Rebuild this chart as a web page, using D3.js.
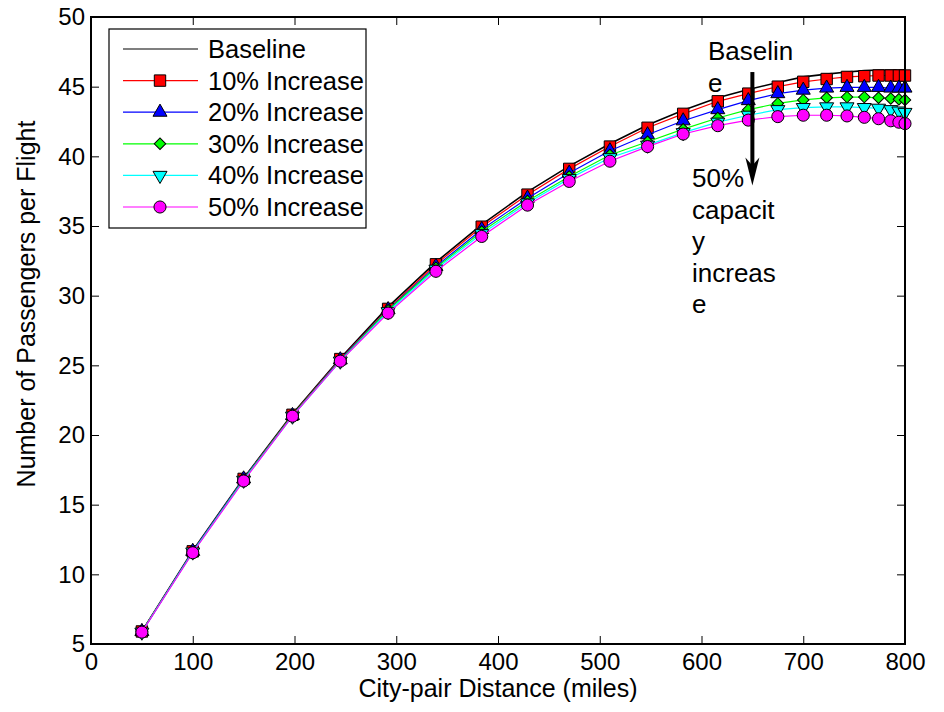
<!DOCTYPE html>
<html>
<head>
<meta charset="utf-8">
<script src="https://cdn.jsdelivr.net/npm/d3@7"></script>
<style>
	body { margin: 0; background: #fff; }
	text { font-family: "Liberation Sans", Arial, sans-serif; fill: #000; }
</style>
</head>
<body>
<div id="widget"></div>
<script>
// City-pair distance (miles) where each value was computed
var distances = [50, 100, 150, 198, 245, 292, 339, 384, 429, 470, 510, 547, 582, 616, 646, 675, 700, 723, 743, 760, 774, 786, 794, 800];

// Passengers per flight, one array per capacity case
var baseline = [5.9, 11.7, 16.9, 21.5, 25.5, 29.2, 32.4, 35.1, 37.45, 39.3, 40.9, 42.25, 43.3, 44.2, 44.8, 45.3, 45.7, 45.9, 46.05, 46.15, 46.2, 46.2, 46.2, 46.2];
var inc10 = [5.9, 11.65, 16.85, 21.45, 25.45, 29.05, 32.25, 34.95, 37.25, 39.1, 40.7, 42.05, 43.05, 43.95, 44.5, 45.0, 45.35, 45.55, 45.7, 45.75, 45.8, 45.8, 45.8, 45.8];
var inc20 = [5.9, 11.65, 16.85, 21.4, 25.4, 29.0, 32.1, 34.75, 37.0, 38.8, 40.4, 41.55, 42.55, 43.35, 44.0, 44.5, 44.75, 44.9, 44.95, 44.95, 44.95, 44.9, 44.9, 44.9];
var inc30 = [5.9, 11.6, 16.8, 21.4, 25.35, 28.95, 32.0, 34.6, 36.8, 38.55, 40.1, 41.05, 41.95, 42.75, 43.35, 43.8, 44.05, 44.2, 44.25, 44.25, 44.2, 44.15, 44.1, 44.05];
var inc40 = [5.85, 11.6, 16.75, 21.35, 25.3, 28.85, 31.9, 34.45, 36.65, 38.4, 39.9, 40.8, 41.7, 42.45, 42.95, 43.35, 43.5, 43.55, 43.55, 43.5, 43.45, 43.35, 43.25, 43.15];
var inc50 = [5.85, 11.55, 16.7, 21.35, 25.3, 28.75, 31.75, 34.25, 36.5, 38.2, 39.65, 40.7, 41.6, 42.2, 42.6, 42.85, 42.95, 42.95, 42.9, 42.8, 42.7, 42.55, 42.45, 42.35];

var seriesNames = ["Baseline", "10% Increase", "20% Increase", "30% Increase", "40% Increase", "50% Increase"];
var seriesColours = ["#000000", "#ff0000", "#0000ff", "#00ff00", "#00ffff", "#ff00ff"];
var seriesMarkers = ["none", "square", "triangle", "diamond", "triangledown", "circle"];

var xTicks = [0, 100, 200, 300, 400, 500, 600, 700, 800];
var yTicks = [5, 10, 15, 20, 25, 30, 35, 40, 45, 50];

var xTitle = "City-pair Distance (miles)";
var yTitle = "Number of Passengers per Flight";

// arrow annotation, in data units
var arrowX = 650;
var arrowFrom = 46.05;
var arrowTo = 37.9;
var topNote = ["Baselin", "e"];
var bottomNote = ["50%", "capacit", "y", "increas", "e"];

var width = 944, height = 712;
var plotLeft = 91, plotRight = 905, plotTop = 17, plotBottom = 644;

var svg = d3.select("#widget")
	.append("svg")
	.attr("width", width)
	.attr("height", height);

var x = d3.scaleLinear().domain([0, 800]).range([plotLeft, plotRight]);
var y = d3.scaleLinear().domain([5, 50]).range([plotBottom, plotTop]);

var allValues = [baseline, inc10, inc20, inc30, inc40, inc50];

// Build one object per series
var dataset = [];
for (var i = 0; i < allValues.length; i++) {
	dataset.push({
		name: seriesNames[i],
		colour: seriesColours[i],
		marker: seriesMarkers[i],
		points: distances.map(function(d, j) {
			return { x: d, y: allValues[i][j] };
		})
	});
}

function markerPath(type) {
	if (type == "square") return d3.symbol().type(d3.symbolSquare).size(130)();
	if (type == "triangle") return d3.symbol().type(d3.symbolTriangle).size(85)();
	if (type == "triangledown") return d3.symbol().type(d3.symbolTriangle).size(85)();
	if (type == "diamond") return d3.symbol().type(d3.symbolSquare).size(66)();
	if (type == "circle") return d3.symbol().type(d3.symbolCircle).size(115)();
	return null;
}

function markerRotate(type) {
	if (type == "triangledown") return " rotate(180)";
	if (type == "diamond") return " rotate(45)";
	return "";
}

// Axes: ticks point inward on all four sides
svg.append("g")
	.attr("transform", "translate(0," + plotBottom + ")")
	.call(d3.axisBottom(x).tickValues(xTicks).tickSize(-8).tickPadding(9));
svg.append("g")
	.attr("transform", "translate(0," + plotTop + ")")
	.call(d3.axisTop(x).tickValues(xTicks).tickSize(-8).tickFormat(""));
svg.append("g")
	.attr("transform", "translate(" + plotLeft + ",0)")
	.call(d3.axisLeft(y).tickValues(yTicks).tickSize(-8).tickPadding(6));
svg.append("g")
	.attr("transform", "translate(" + plotRight + ",0)")
	.call(d3.axisRight(y).tickValues(yTicks).tickSize(-8).tickFormat(""));

svg.selectAll(".domain").remove();
svg.selectAll(".tick line").attr("stroke", "#000").attr("stroke-width", 1);
svg.selectAll(".tick text")
	.attr("font-size", "24px")
	.attr("font-family", "'Liberation Sans', Arial, sans-serif")
	.attr("fill", "#000");

// Plot lines and markers, series by series
var line = d3.line()
	.x(function(d) { return x(d.x); })
	.y(function(d) { return y(d.y); });

dataset.forEach(function(s) {
	var g = svg.append("g");
	g.append("path")
		.datum(s.points)
		.attr("d", line)
		.attr("fill", "none")
		.attr("stroke", s.colour)
		.attr("stroke-width", s.marker == "none" ? 1.6 : 1.2);
	if (s.marker != "none") {
		g.selectAll("path.mk")
			.data(s.points)
			.enter()
			.append("path")
			.attr("class", "mk")
			.attr("d", markerPath(s.marker))
			.attr("transform", function(d) {
				return "translate(" + x(d.x) + "," + y(d.y) + ")" + markerRotate(s.marker);
			})
			.attr("fill", s.colour)
			.attr("stroke", "#000")
			.attr("stroke-width", 1);
	}
});

// Plot box
svg.append("rect")
	.attr("x", plotLeft)
	.attr("y", plotTop)
	.attr("width", plotRight - plotLeft)
	.attr("height", plotBottom - plotTop)
	.attr("fill", "none")
	.attr("stroke", "#000")
	.attr("stroke-width", 2);

// Axis titles
svg.append("text")
	.attr("x", (plotLeft + plotRight) / 2)
	.attr("y", 697)
	.attr("font-size", "25px")
	.style("text-anchor", "middle")
	.text(xTitle);

svg.append("text")
	.attr("transform", "translate(35,304) rotate(-90)")
	.attr("font-size", "25px")
	.style("text-anchor", "middle")
	.text(yTitle);

// Arrow annotation
var ax = x(arrowX);
var tipY = y(arrowTo);
svg.append("line")
	.attr("x1", ax)
	.attr("x2", ax)
	.attr("y1", y(arrowFrom))
	.attr("y2", tipY - 18)
	.attr("stroke", "#000")
	.attr("stroke-width", 4);
svg.append("path")
	.attr("d", "M" + ax + "," + tipY +
		"L" + (ax - 7) + "," + (tipY - 28) +
		"L" + ax + "," + (tipY - 20) +
		"L" + (ax + 7) + "," + (tipY - 28) + "Z")
	.attr("fill", "#000");

svg.selectAll("text.topnote")
	.data(topNote)
	.enter()
	.append("text")
	.attr("class", "topnote")
	.attr("x", 708)
	.attr("y", function(d, i) { return 60 + i * 32; })
	.attr("font-size", "26px")
	.text(function(d) { return d; });

svg.selectAll("text.bottomnote")
	.data(bottomNote)
	.enter()
	.append("text")
	.attr("class", "bottomnote")
	.attr("x", 692)
	.attr("y", function(d, i) { return 187 + i * 31.5; })
	.attr("font-size", "26px")
	.text(function(d) { return d; });

// Legend
var legend = svg.append("g");
legend.append("rect")
	.attr("x", 109)
	.attr("y", 29)
	.attr("width", 257)
	.attr("height", 199)
	.attr("fill", "#fff")
	.attr("stroke", "#000")
	.attr("stroke-width", 1.2);

var rows = legend.selectAll("g.row")
	.data(dataset)
	.enter()
	.append("g")
	.attr("class", "row")
	.attr("transform", function(d, i) {
		return "translate(0," + (49 + i * 31.6) + ")";
	});

rows.append("line")
	.attr("x1", 123)
	.attr("x2", 198)
	.attr("stroke", function(d) { return d.colour; })
	.attr("stroke-width", 1.2);

rows.filter(function(d) { return d.marker != "none"; })
	.append("path")
	.attr("d", function(d) { return markerPath(d.marker); })
	.attr("transform", function(d) { return "translate(160,0)" + markerRotate(d.marker); })
	.attr("fill", function(d) { return d.colour; })
	.attr("stroke", "#000")
	.attr("stroke-width", 1);

rows.append("text")
	.attr("x", 208)
	.attr("dy", "0.35em")
	.attr("font-size", "25.5px")
	.text(function(d) { return d.name; });
</script>
</body>
</html>
